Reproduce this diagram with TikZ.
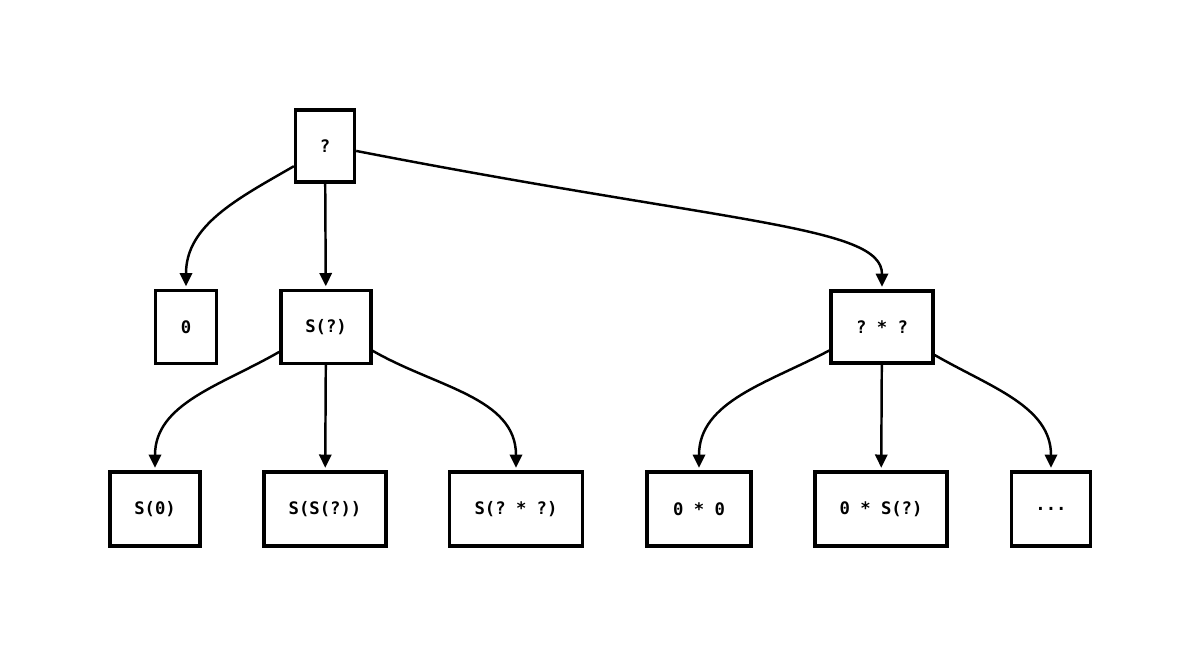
\documentclass[tikz,border=0pt]{standalone}
\usepackage{fontspec}
\setmonofont{DejaVu Sans Mono}
\usepackage{tikz}
\usetikzlibrary{arrows.meta,positioning}

\tikzset{
term/.style={draw,line width=1.9pt,inner sep=0pt,minimum height=1.46cm,
  font=\fontsize{9.8}{11}\selectfont\ttfamily\bfseries},
}

\begin{document}
\begin{tikzpicture}
\useasboundingbox (0,0) rectangle (24,13.12);
\node[term,minimum width=1.18cm,minimum height=1.44cm] (R) at (6.5,10.2) {?};
\node[term,minimum width=1.22cm] (Z) at (3.72,6.58) {0};
\node[term,minimum width=1.8cm] (S) at (6.52,6.58) {S(?)};
\node[term,minimum width=2.04cm,minimum height=1.44cm] (M) at (17.64,6.58) {? * ?};
\node[term,minimum width=1.8cm,minimum height=1.48cm] (SZ) at (3.1,2.94) {S(0)};
\node[term,minimum width=2.44cm,minimum height=1.48cm] (SS) at (6.5,2.94) {S(S(?))};
\node[term,minimum width=2.66cm,minimum height=1.48cm] (SM) at (10.32,2.94) {S(? * ?)};
\node[term,minimum width=2.08cm,minimum height=1.48cm] (MZ) at (13.98,2.94) {0 * 0};
\node[term,minimum width=2.64cm,minimum height=1.48cm] (MS) at (17.62,2.94) {0 * S(?)};
\node[term,minimum width=1.58cm,minimum height=1.48cm] (D) at (21.02,2.94) {...};
\path[-{Triangle[length=7.5pt,width=7pt]},line width=1.4pt,shorten >=1.5pt]
(R.213) edge[out=210,in=90] (Z.north)
(R) edge (S)
(R.-9) edge[out=-11,in=90,out looseness=1.8,in looseness=0.3] (M.north)
(S.208) edge[out=210,in=90] (SZ.north)
(S) edge (SS)
(S.333) edge[out=-30,in=90] (SM.north)
(M.204) edge[out=208,in=90] (MZ.north)
(M) edge (MS)
(M.332) edge[out=-30,in=90] (D.north);
\end{tikzpicture}
\end{document}
